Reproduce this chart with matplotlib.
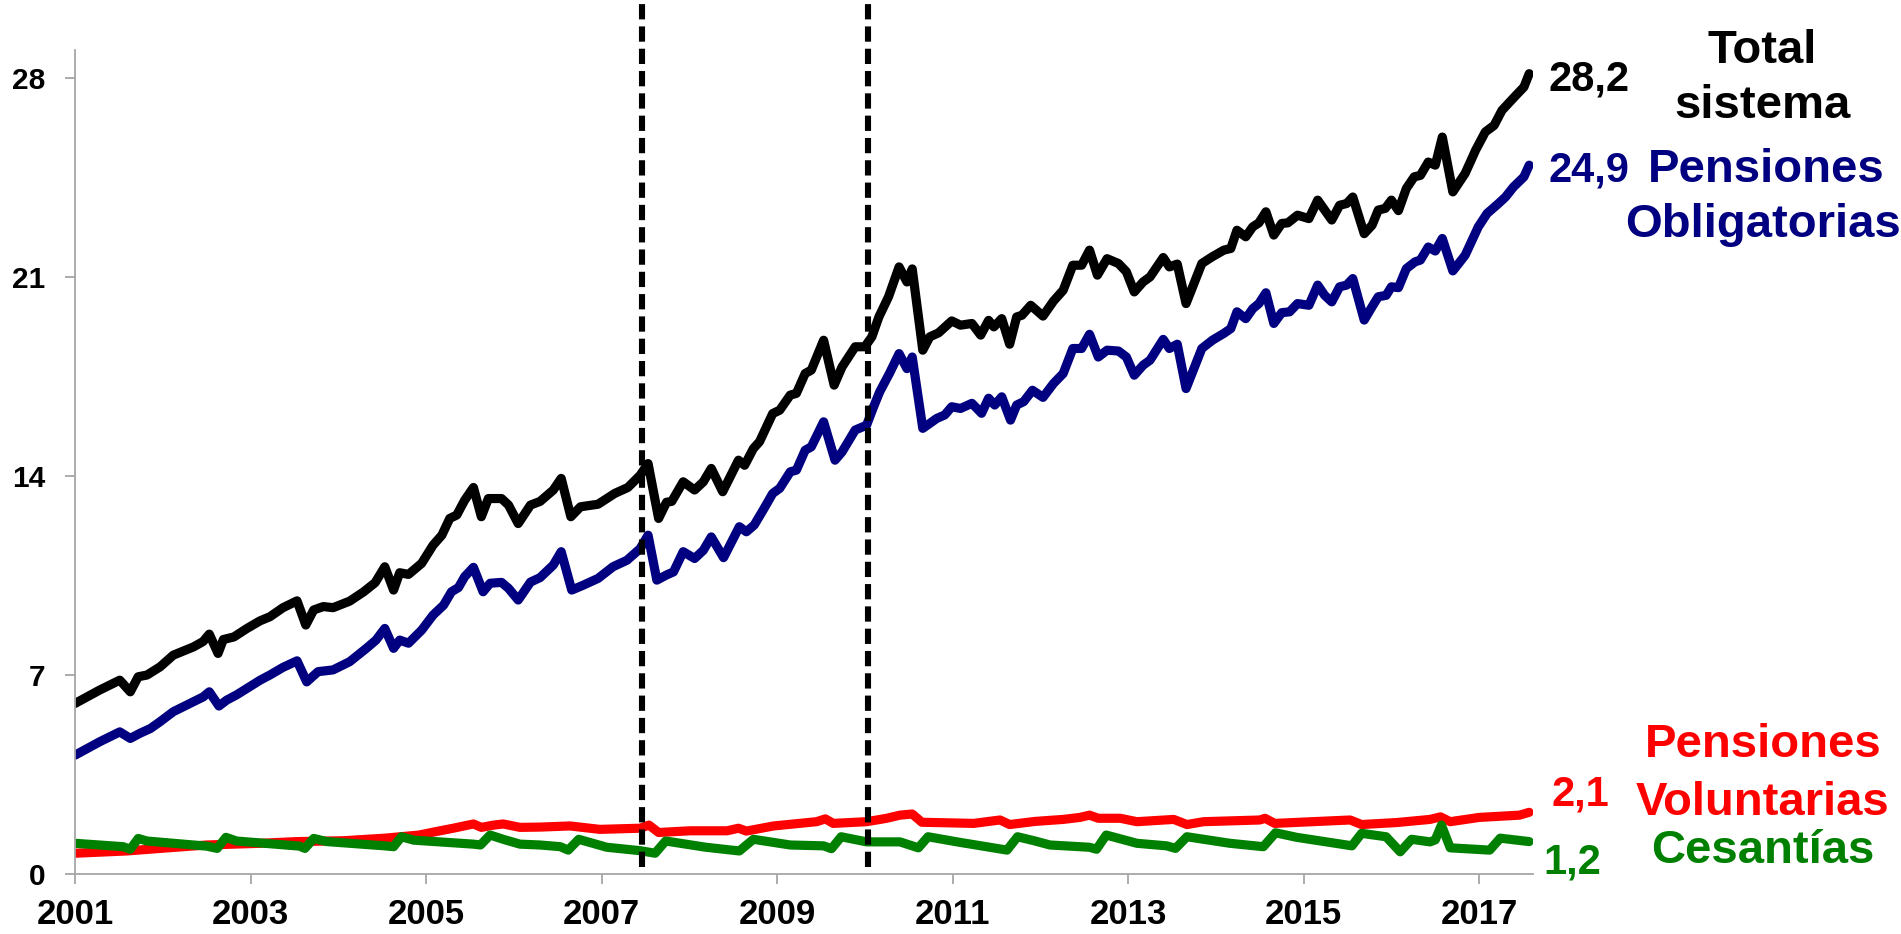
import matplotlib
matplotlib.use("Agg")
import matplotlib.pyplot as plt
import numpy as np

plt.rcParams['font.family'] = ['Liberation Sans', 'DejaVu Sans']
plt.rcParams['font.weight'] = 'bold'

# ---------------- data ----------------
total_t = [2001.00, 2001.28, 2001.51, 2001.63, 2001.72, 2001.82, 2001.97, 2002.12, 2002.35, 2002.46,
           2002.53, 2002.63, 2002.69, 2002.81, 2002.96, 2003.11, 2003.22, 2003.37, 2003.53, 2003.63,
           2003.72, 2003.83, 2003.94, 2004.13, 2004.29, 2004.42, 2004.53, 2004.63, 2004.70, 2004.80,
           2004.95, 2005.08, 2005.18, 2005.27, 2005.35, 2005.44, 2005.54, 2005.63, 2005.71, 2005.86,
           2005.94, 2006.05, 2006.19, 2006.30, 2006.45, 2006.54, 2006.65, 2006.76, 2006.96, 2007.15,
           2007.30, 2007.44, 2007.53, 2007.65, 2007.74, 2007.80, 2007.93, 2008.06, 2008.16, 2008.25,
           2008.38, 2008.56, 2008.63, 2008.73, 2008.80, 2008.95, 2009.03, 2009.15, 2009.22, 2009.32,
           2009.39, 2009.53, 2009.65, 2009.74, 2009.89, 2010.00, 2010.08, 2010.16, 2010.27, 2010.39,
           2010.48, 2010.54, 2010.66, 2010.74, 2010.84, 2010.99, 2011.09, 2011.22, 2011.32, 2011.41,
           2011.47, 2011.56, 2011.65, 2011.73, 2011.79, 2011.89, 2012.03, 2012.15, 2012.26, 2012.37,
           2012.47, 2012.56, 2012.65, 2012.76, 2012.89, 2012.98, 2013.07, 2013.17, 2013.25, 2013.40,
           2013.47, 2013.56, 2013.66, 2013.75, 2013.84, 2013.96, 2014.09, 2014.17, 2014.24, 2014.34,
           2014.42, 2014.49, 2014.57, 2014.66, 2014.75, 2014.82, 2014.93, 2015.06, 2015.16, 2015.24,
           2015.32, 2015.41, 2015.49, 2015.56, 2015.69, 2015.78, 2015.85, 2015.93, 2016.00, 2016.08,
           2016.17, 2016.26, 2016.33, 2016.42, 2016.50, 2016.58, 2016.70, 2016.84, 2016.96, 2017.07,
           2017.17, 2017.26, 2017.42, 2017.51, 2017.57]
total_v = [5.99, 6.46, 6.81, 6.40, 6.93, 6.99, 7.28, 7.69, 7.98, 8.17,
           8.43, 7.75, 8.24, 8.33, 8.63, 8.90, 9.04, 9.36, 9.60, 8.75,
           9.28, 9.40, 9.36, 9.59, 9.92, 10.24, 10.80, 9.98, 10.59, 10.53,
           10.92, 11.56, 11.91, 12.50, 12.62, 13.14, 13.59, 12.56, 13.20, 13.20,
           12.97, 12.32, 12.97, 13.10, 13.50, 13.91, 12.56, 12.91, 13.00, 13.38,
           13.59, 14.02, 14.43, 12.50, 13.07, 13.10, 13.79, 13.50, 13.79, 14.26,
           13.44, 14.55, 14.37, 14.96, 15.20, 16.19, 16.31, 16.84, 16.90, 17.60,
           17.72, 18.77, 17.19, 17.83, 18.54, 18.54, 18.89, 19.59, 20.30, 21.35,
           20.82, 21.28, 18.42, 18.89, 19.03, 19.45, 19.30, 19.36, 18.95, 19.47,
           19.24, 19.53, 18.63, 19.59, 19.65, 20.00, 19.62, 20.15, 20.53, 21.41,
           21.41, 21.94, 21.06, 21.64, 21.47, 21.18, 20.47, 20.82, 21.00, 21.68,
           21.35, 21.45, 20.06, 20.76, 21.47, 21.71, 21.94, 22.00, 22.64, 22.41,
           22.76, 22.90, 23.29, 22.47, 22.88, 22.90, 23.17, 23.05, 23.70, 23.35,
           23.00, 23.52, 23.58, 23.81, 22.52, 22.82, 23.35, 23.41, 23.70, 23.33,
           24.11, 24.52, 24.57, 25.04, 24.93, 25.92, 23.99, 24.64, 25.46, 26.10,
           26.33, 26.86, 27.39, 27.68, 28.15]

oblig_t = [2001.00, 2001.28, 2001.51, 2001.63, 2001.74, 2001.86, 2001.97, 2002.12, 2002.35, 2002.46,
           2002.53, 2002.64, 2002.73, 2002.84, 2003.11, 2003.22, 2003.37, 2003.53, 2003.64, 2003.77,
           2003.94, 2004.13, 2004.32, 2004.43, 2004.53, 2004.63, 2004.70, 2004.80, 2004.95, 2005.08,
           2005.20, 2005.29, 2005.37, 2005.44, 2005.54, 2005.65, 2005.73, 2005.86, 2005.94, 2006.05,
           2006.19, 2006.30, 2006.45, 2006.54, 2006.66, 2006.79, 2006.96, 2007.13, 2007.29, 2007.44,
           2007.53, 2007.63, 2007.74, 2007.82, 2007.93, 2008.06, 2008.16, 2008.25, 2008.39, 2008.57,
           2008.65, 2008.74, 2008.84, 2008.95, 2009.03, 2009.15, 2009.22, 2009.32, 2009.39, 2009.53,
           2009.66, 2009.74, 2009.89, 2010.02, 2010.10, 2010.17, 2010.28, 2010.39, 2010.48, 2010.54,
           2010.66, 2010.82, 2010.91, 2010.99, 2011.09, 2011.22, 2011.33, 2011.41, 2011.48, 2011.56,
           2011.66, 2011.73, 2011.81, 2011.91, 2012.03, 2012.15, 2012.26, 2012.37, 2012.47, 2012.56,
           2012.66, 2012.76, 2012.89, 2012.98, 2013.07, 2013.17, 2013.25, 2013.40, 2013.47, 2013.56,
           2013.66, 2013.75, 2013.84, 2013.96, 2014.09, 2014.17, 2014.24, 2014.34, 2014.42, 2014.49,
           2014.57, 2014.66, 2014.75, 2014.84, 2014.93, 2015.06, 2015.16, 2015.24, 2015.32, 2015.41,
           2015.49, 2015.56, 2015.69, 2015.78, 2015.85, 2015.94, 2016.00, 2016.08, 2016.17, 2016.27,
           2016.33, 2016.42, 2016.50, 2016.58, 2016.70, 2016.84, 2016.99, 2017.09, 2017.22, 2017.30,
           2017.39, 2017.51, 2017.57]
oblig_v = [4.17, 4.64, 4.99, 4.76, 4.94, 5.11, 5.35, 5.70, 6.05, 6.22,
           6.40, 5.90, 6.11, 6.29, 6.81, 6.99, 7.26, 7.49, 6.75, 7.11,
           7.17, 7.46, 7.93, 8.22, 8.63, 7.93, 8.22, 8.11, 8.57, 9.10,
           9.45, 9.92, 10.07, 10.45, 10.78, 9.92, 10.22, 10.25, 10.04, 9.63,
           10.26, 10.42, 10.86, 11.33, 9.98, 10.15, 10.39, 10.80, 11.03, 11.44,
           11.91, 10.33, 10.51, 10.62, 11.33, 11.09, 11.38, 11.85, 11.12, 12.21,
           12.03, 12.27, 12.79, 13.38, 13.56, 14.14, 14.20, 14.90, 15.02, 15.90,
           14.55, 14.84, 15.61, 15.78, 16.43, 16.96, 17.60, 18.30, 17.77, 18.18,
           15.67, 16.02, 16.14, 16.43, 16.37, 16.55, 16.20, 16.73, 16.49, 16.78,
           15.96, 16.49, 16.61, 17.01, 16.76, 17.25, 17.60, 18.48, 18.48, 18.98,
           18.18, 18.42, 18.39, 18.18, 17.54, 17.89, 18.07, 18.80, 18.48, 18.63,
           17.07, 17.78, 18.48, 18.77, 19.01, 19.18, 19.77, 19.53, 19.88, 20.06,
           20.44, 19.36, 19.74, 19.77, 20.06, 20.00, 20.71, 20.35, 20.12, 20.65,
           20.71, 20.94, 19.48, 19.95, 20.30, 20.35, 20.65, 20.62, 21.29, 21.53,
           21.59, 22.05, 21.91, 22.35, 21.21, 21.76, 22.76, 23.23, 23.58, 23.81,
           24.16, 24.52, 24.93]

volunt_t = [2001.00, 2001.59, 2001.97, 2002.50, 2003.11, 2003.53, 2004.06, 2004.53, 2004.92, 2005.11,
            2005.31, 2005.54, 2005.63, 2005.77, 2005.88, 2006.07, 2006.30, 2006.64, 2006.98, 2007.44,
            2007.54, 2007.65, 2008.01, 2008.43, 2008.56, 2008.65, 2008.96, 2009.45, 2009.55, 2009.64,
            2010.02, 2010.25, 2010.40, 2010.54, 2010.65, 2011.24, 2011.54, 2011.65, 2011.94, 2012.26,
            2012.45, 2012.56, 2012.66, 2012.91, 2013.10, 2013.52, 2013.67, 2013.86, 2014.50, 2014.56,
            2014.67, 2015.53, 2015.66, 2016.06, 2016.44, 2016.56, 2016.67, 2017.00, 2017.46, 2017.57]
volunt_v = [0.72, 0.80, 0.89, 1.01, 1.07, 1.13, 1.16, 1.25, 1.36, 1.48,
            1.60, 1.75, 1.63, 1.71, 1.75, 1.63, 1.64, 1.68, 1.56, 1.60,
            1.71, 1.45, 1.51, 1.51, 1.60, 1.50, 1.68, 1.83, 1.93, 1.77,
            1.83, 1.95, 2.06, 2.10, 1.81, 1.77, 1.89, 1.73, 1.84, 1.91,
            1.98, 2.06, 1.95, 1.95, 1.83, 1.91, 1.73, 1.83, 1.89, 1.95,
            1.77, 1.89, 1.73, 1.80, 1.91, 2.00, 1.83, 1.98, 2.06, 2.16]

cesant_t = [2001.00, 2001.55, 2001.63, 2001.72, 2001.82, 2002.50, 2002.62, 2002.72, 2002.84, 2003.56,
            2003.62, 2003.72, 2003.87, 2004.53, 2004.63, 2004.72, 2004.86, 2005.54, 2005.62, 2005.73,
            2005.88, 2006.07, 2006.30, 2006.53, 2006.62, 2006.74, 2007.06, 2007.44, 2007.61, 2007.73,
            2008.19, 2008.57, 2008.73, 2009.15, 2009.53, 2009.62, 2009.73, 2010.02, 2010.40, 2010.61,
            2010.72, 2011.05, 2011.62, 2011.74, 2011.94, 2012.11, 2012.56, 2012.64, 2012.75, 2013.10,
            2013.44, 2013.54, 2013.67, 2014.16, 2014.54, 2014.68, 2014.92, 2015.49, 2015.55, 2015.66,
            2015.94, 2016.10, 2016.23, 2016.44, 2016.50, 2016.57, 2016.67, 2017.12, 2017.24, 2017.57]
cesant_v = [1.07, 0.95, 0.86, 1.24, 1.15, 0.97, 0.89, 1.28, 1.15, 0.97,
            0.89, 1.24, 1.13, 0.98, 0.95, 1.30, 1.18, 1.04, 1.01, 1.36,
            1.21, 1.04, 1.01, 0.95, 0.83, 1.21, 0.93, 0.81, 0.72, 1.15,
            0.93, 0.80, 1.21, 1.01, 0.98, 0.88, 1.30, 1.12, 1.12, 0.91,
            1.30, 1.12, 0.83, 1.30, 1.15, 1.01, 0.93, 0.86, 1.36, 1.07,
            0.98, 0.89, 1.30, 1.07, 0.95, 1.44, 1.28, 1.01, 0.98, 1.42,
            1.30, 0.77, 1.21, 1.12, 1.19, 1.71, 0.91, 0.83, 1.25, 1.13]

event_dates = [2007.46, 2010.04]
y_ticks = [0, 7, 14, 21, 28]
x_ticks = list(range(2001, 2018, 2))

# ---------------- figure ----------------
W, H = 1901, 934
fig = plt.figure(figsize=(W / 100, H / 100), dpi=100)
ax = fig.add_axes([75 / W, 1 - 873.7 / H, (1532.7 - 75) / W, (873.7 - 49.5) / H])

lw = 6.6
kw = dict(lw=lw, solid_joinstyle='round', solid_capstyle='round')
ax.plot(volunt_t, volunt_v, color='#FF0000', **kw)
ax.plot(cesant_t, cesant_v, color='#008000', **kw)
ax.plot(oblig_t, oblig_v, color='#000080', **kw)
ax.plot(total_t, total_v, color='#000000', **kw)

for d in event_dates:
    ax.plot([d, d], [0.25, 30.6], color='black', lw=4.4, ls=(0, (2.5, 1.15)),
            clip_on=False, zorder=5)

ax.set_xlim(2001, 2017.61)
ax.set_ylim(0, 29)
ax.set_yticks(y_ticks)
ax.set_yticklabels([str(v) for v in y_ticks], fontsize=21.5, fontweight='bold')
ax.set_xticks(x_ticks)
ax.set_xticklabels([str(v) for v in x_ticks], fontsize=25, fontweight='bold')

grey = '#A6A6A6'
for s in ['top', 'right']:
    ax.spines[s].set_visible(False)
for s in ['left', 'bottom']:
    ax.spines[s].set_color(grey)
    ax.spines[s].set_linewidth(1.3)
ax.tick_params(axis='both', direction='out', length=7.2, width=1.3, color=grey)
ax.tick_params(axis='y', pad=14)
ax.tick_params(axis='x', pad=10)

# ---------------- annotations ----------------
def ftxt(x, y, s, color, size, ha='left'):
    fig.text(x / W, 1 - y / H, s, color=color, fontsize=size, fontweight='bold',
             ha=ha, va='baseline')

ftxt(1548, 90, '28,2', 'black', 30)
ftxt(1762, 63, 'Total', 'black', 34, ha='center')
ftxt(1762, 118, 'sistema', 'black', 34, ha='center')
ftxt(1548, 182, '24,9', '#000080', 30)
ftxt(1648, 182, 'Pensiones', '#000080', 34)
ftxt(1625, 237, 'Obligatorias', '#000080', 34)
ftxt(1763, 757, 'Pensiones', '#FF0000', 34, ha='center')
ftxt(1551, 805, '2,1', '#FF0000', 30)
ftxt(1763, 815, 'Voluntarias', '#FF0000', 34, ha='center')
ftxt(1763, 863, 'Cesantías', '#008000', 34, ha='center')
ftxt(1543, 873, '1,2', '#008000', 30)

fig.savefig('out.png', dpi=100)
